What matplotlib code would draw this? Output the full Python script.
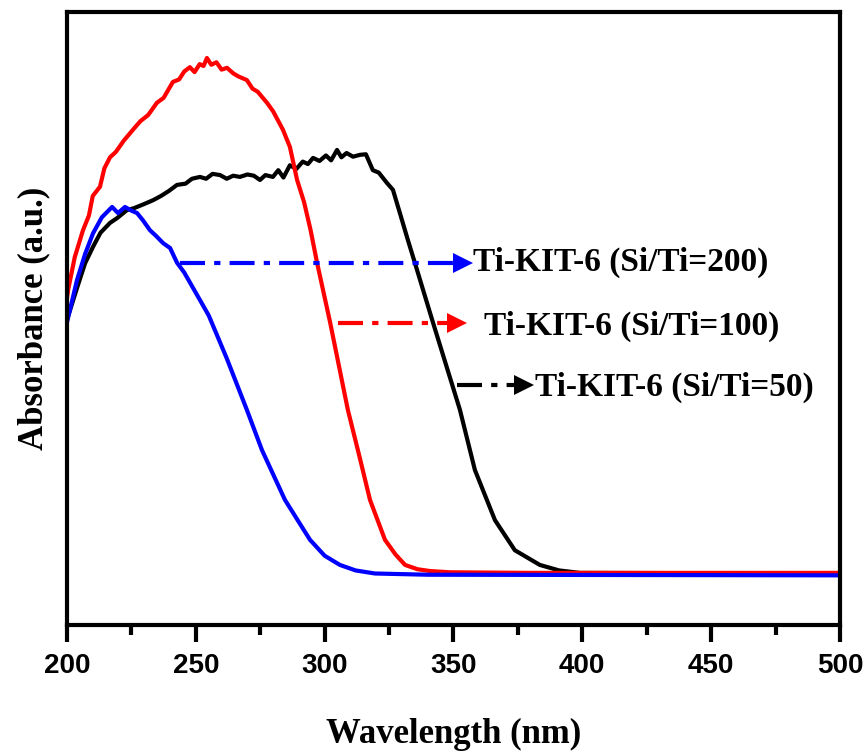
import matplotlib.pyplot as plt
import numpy as np

# 数据
wl_red = [200.0, 200.4, 203.0, 206.2, 208.5, 210.0, 212.8, 214.5, 216.7, 219.0, 222.0, 225.6, 228.5,
          231.5, 234.9, 237.5, 241.1, 243.5, 245.5, 247.7, 249.5, 251.5, 253.0, 254.3, 256.0, 258.0,
          260.0, 262.1, 264.5, 266.5, 269.8, 272.0, 274.0, 277.6, 280.0, 283.8, 286.5, 289.3, 292.0,
          294.5, 297.0, 302.1, 309.0, 313.5, 317.6, 323.4, 327.5, 331.2, 336.0, 340.9, 348.6, 380.0, 500.0]
abs_red = [0.533, 0.546, 0.600, 0.644, 0.668, 0.700, 0.715, 0.745, 0.763, 0.772, 0.790, 0.808, 0.822,
           0.832, 0.852, 0.860, 0.886, 0.890, 0.903, 0.910, 0.902, 0.915, 0.912, 0.925, 0.914, 0.918,
           0.906, 0.909, 0.900, 0.895, 0.889, 0.875, 0.870, 0.852, 0.838, 0.808, 0.780, 0.726, 0.690,
           0.645, 0.592, 0.494, 0.351, 0.275, 0.204, 0.139, 0.115, 0.098, 0.091, 0.088, 0.086, 0.085, 0.085]

wl_black = [200.0, 203.9, 207.0, 210.1, 213.0, 216.7, 219.5, 223.3, 226.0, 229.5, 233.4, 236.5, 239.5,
            242.7, 246.0, 248.5, 251.6, 254.0, 256.5, 259.4, 262.0, 264.5, 267.1, 270.0, 272.5, 274.9,
            277.0, 279.9, 282.0, 284.0, 286.5, 289.0, 291.5, 293.5, 295.5, 298.0, 300.5, 302.5, 304.8,
            306.5, 308.5, 311.0, 313.7, 316.0, 318.7, 321.0, 324.2, 326.5, 329.2, 332.3, 335.0, 342.0,
            352.5, 358.3, 366.1, 373.8, 383.5, 391.0, 399.1, 500.0]
abs_black = [0.498, 0.550, 0.590, 0.617, 0.640, 0.656, 0.664, 0.677, 0.680, 0.686, 0.693, 0.700, 0.708,
             0.718, 0.720, 0.728, 0.731, 0.728, 0.736, 0.734, 0.728, 0.733, 0.731, 0.735, 0.733, 0.726,
             0.734, 0.731, 0.742, 0.730, 0.750, 0.744, 0.756, 0.752, 0.762, 0.757, 0.766, 0.758, 0.775,
             0.763, 0.770, 0.764, 0.767, 0.768, 0.742, 0.738, 0.721, 0.710, 0.672, 0.628, 0.591, 0.494,
             0.351, 0.253, 0.171, 0.122, 0.098, 0.089, 0.085, 0.084]

wl_blue = [200.0, 203.9, 207.0, 210.1, 213.5, 217.5, 219.8, 222.5, 225.0, 227.2, 229.5, 232.2, 234.5,
           237.3, 240.0, 242.7, 245.5, 248.9, 255.0, 262.0, 269.8, 275.7, 284.6, 294.3, 300.0, 305.9,
           312.0, 319.5, 340.0, 500.0]
abs_blue = [0.494, 0.563, 0.605, 0.639, 0.665, 0.682, 0.672, 0.682, 0.676, 0.672, 0.660, 0.644, 0.635,
            0.623, 0.615, 0.591, 0.575, 0.550, 0.505, 0.435, 0.351, 0.285, 0.204, 0.139, 0.113, 0.098,
            0.089, 0.084, 0.082, 0.081]

labels = ['Ti-KIT-6 (Si/Ti=200)', 'Ti-KIT-6 (Si/Ti=100)', 'Ti-KIT-6 (Si/Ti=50)']

fig = plt.figure(figsize=(8.68, 7.52), dpi=100)
ax = fig.add_axes([0.0772, 0.1689, 0.8905, 0.8151])

ax.plot(wl_black, abs_black, color='black', lw=3)
ax.plot(wl_red, abs_red, color='red', lw=3)
ax.plot(wl_blue, abs_blue, color='blue', lw=3)

# 箭头 + 标注
arrows = [(243.9, 351.0, 0.591, 'blue', labels[0], 357.5, 0.591),
          (305.2, 349.0, 0.493, 'red', labels[1], 362.0, 0.487),
          (351.3, 375.0, 0.392, 'black', labels[2], 381.5, 0.387)]
for x0, x1, yy, c, lab, xt, yt in arrows:
    ax.plot([x0, x1], [yy, yy], color=c, lw=3, dashes=(6, 2.2, 1.5, 2.2))
    ax.plot([x1 + 2.5], [yy], marker='>', color=c, ms=15, mew=0)
    ax.text(xt, yt, lab, fontsize=24, fontweight='bold', family='Liberation Serif',
            va='center', ha='left')

ax.set_xlim(200, 500)
ax.set_ylim(0, 1)
ax.set_xticks(np.arange(200, 501, 50))
ax.set_xticks(np.arange(225, 500, 50), minor=True)
ax.set_yticks([])
for lab in ax.get_xticklabels():
    lab.set_family('Liberation Sans')
    lab.set_fontweight('bold')
ax.tick_params(axis='x', which='major', direction='out', length=12, width=3, labelsize=20, pad=8)
ax.tick_params(axis='x', which='minor', direction='out', length=7, width=3)
for s in ax.spines.values():
    s.set_linewidth(3)

ax.set_xlabel('Wavelength (nm)', fontsize=25, fontweight='bold', family='Liberation Serif', labelpad=28)
ax.set_ylabel('Absorbance (a.u.)', fontsize=25, fontweight='bold', family='Liberation Serif', labelpad=12)

fig.savefig('out.png', dpi=100)
